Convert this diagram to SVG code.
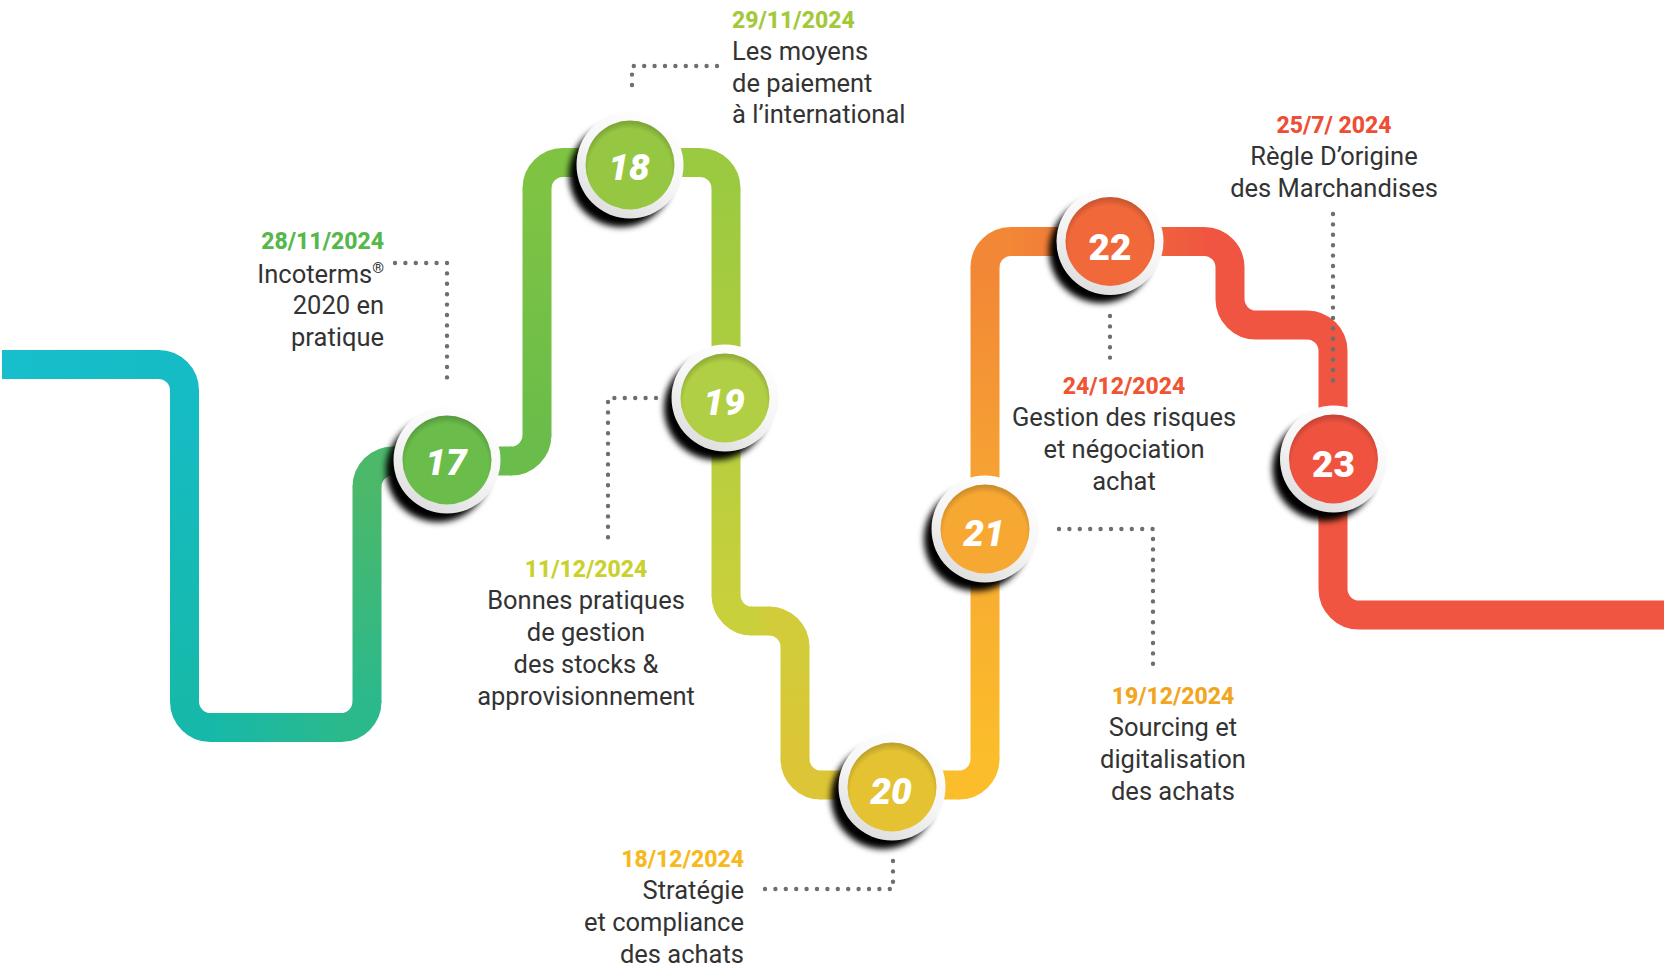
<svg xmlns="http://www.w3.org/2000/svg" width="1664" height="969" viewBox="0 0 1664 969">
<style>
.seg{fill:none;stroke-width:29;stroke-linecap:butt}
.lead{fill:none;stroke:#6d6e71;stroke-width:4.4;stroke-linecap:round;stroke-dasharray:0 10.4}
.num{font-family:Roboto,"Liberation Sans",sans-serif;font-weight:900;font-size:37px;fill:#fff;text-anchor:middle}
.it{font-style:italic}
.date{font-family:Roboto,"Liberation Sans",sans-serif;font-weight:800;font-size:23px}
.txt{font-family:Roboto,"Liberation Sans",sans-serif;font-weight:400;font-size:25.5px;fill:#333}
.ring{fill:url(#ringG)}
.shadow{fill:#000;filter:url(#blur)}
.bevel{fill:url(#bevelG)}
</style>
<defs>
<filter id="blur" x="-50%" y="-50%" width="200%" height="200%"><feGaussianBlur stdDeviation="3"/></filter>
<linearGradient id="ringG" x1="0.75" y1="0" x2="0.25" y2="1"><stop offset="0" stop-color="#ffffff"/><stop offset="0.5" stop-color="#f6f6f6"/><stop offset="1" stop-color="#dcdcdc"/></linearGradient>
<radialGradient id="bevelG" cx="0.5" cy="0.56" r="0.54"><stop offset="0.86" stop-color="#000" stop-opacity="0"/><stop offset="1" stop-color="#000" stop-opacity="0.16"/></radialGradient>
<linearGradient id="g0" gradientUnits="userSpaceOnUse" x1="2" y1="0" x2="159" y2="0"><stop offset="0" stop-color="#17bfcc"/><stop offset="1" stop-color="#15bcc5"/></linearGradient>
<linearGradient id="g1" gradientUnits="userSpaceOnUse" x1="0" y1="390" x2="0" y2="702"><stop offset="0" stop-color="#15bcc5"/><stop offset="1" stop-color="#16b9a9"/></linearGradient>
<linearGradient id="g2" gradientUnits="userSpaceOnUse" x1="210" y1="0" x2="341" y2="0"><stop offset="0" stop-color="#16b9a9"/><stop offset="1" stop-color="#2bb98c"/></linearGradient>
<linearGradient id="g3" gradientUnits="userSpaceOnUse" x1="0" y1="702" x2="0" y2="487"><stop offset="0" stop-color="#2bb98c"/><stop offset="1" stop-color="#4cb86a"/></linearGradient>
<linearGradient id="g4" gradientUnits="userSpaceOnUse" x1="393" y1="0" x2="511" y2="0"><stop offset="0" stop-color="#4cb86a"/><stop offset="1" stop-color="#6abd4a"/></linearGradient>
<linearGradient id="g5" gradientUnits="userSpaceOnUse" x1="0" y1="435" x2="0" y2="188"><stop offset="0" stop-color="#6abd4a"/><stop offset="1" stop-color="#7fc343"/></linearGradient>
<linearGradient id="g6" gradientUnits="userSpaceOnUse" x1="563" y1="0" x2="700" y2="0"><stop offset="0" stop-color="#7fc343"/><stop offset="1" stop-color="#9bca41"/></linearGradient>
<linearGradient id="g7" gradientUnits="userSpaceOnUse" x1="0" y1="188" x2="0" y2="595"><stop offset="0" stop-color="#9bca41"/><stop offset="1" stop-color="#c8d03c"/></linearGradient>
<linearGradient id="g8" gradientUnits="userSpaceOnUse" x1="752" y1="0" x2="769" y2="0"><stop offset="0" stop-color="#c8d03c"/><stop offset="1" stop-color="#d2cc3a"/></linearGradient>
<linearGradient id="g9" gradientUnits="userSpaceOnUse" x1="0" y1="647" x2="0" y2="759"><stop offset="0" stop-color="#d2cc3a"/><stop offset="1" stop-color="#dcc536"/></linearGradient>
<linearGradient id="g10" gradientUnits="userSpaceOnUse" x1="821" y1="0" x2="959" y2="0"><stop offset="0" stop-color="#dcc536"/><stop offset="1" stop-color="#fbbd2b"/></linearGradient>
<linearGradient id="g11" gradientUnits="userSpaceOnUse" x1="0" y1="759" x2="0" y2="267"><stop offset="0" stop-color="#fbbd2b"/><stop offset="0.5" stop-color="#f7a732"/><stop offset="1" stop-color="#f28736"/></linearGradient>
<linearGradient id="g12" gradientUnits="userSpaceOnUse" x1="1011" y1="0" x2="1204" y2="0"><stop offset="0" stop-color="#f28736"/><stop offset="1" stop-color="#ef573f"/></linearGradient>
</defs>
<rect width="1664" height="969" fill="#fff"/>
<g id="connectors">
<g id="track">
<path class="seg" stroke="url(#g0)" d="M2,364.5 H159.5"/>
<path class="seg" stroke="#15bcc5" d="M158.5,364.5 A26,26 0 0 1 184.5,390.5"/>
<path class="seg" stroke="url(#g1)" d="M184.5,389.5 V702.5"/>
<path class="seg" stroke="#16b9a9" d="M184.5,701.5 A26,26 0 0 0 210.5,727.5"/>
<path class="seg" stroke="url(#g2)" d="M209.5,727.5 H342"/>
<path class="seg" stroke="#2bb98c" d="M341,727.5 A26,26 0 0 0 367,701.5"/>
<path class="seg" stroke="url(#g3)" d="M367,702.5 V486"/>
<path class="seg" stroke="#4cb86a" d="M367,487 A26,26 0 0 1 393,461"/>
<path class="seg" stroke="url(#g4)" d="M392,461 H512"/>
<path class="seg" stroke="#6abd4a" d="M511,461 A26,26 0 0 0 537,435"/>
<path class="seg" stroke="url(#g5)" d="M537,436 V187.5"/>
<path class="seg" stroke="#7fc343" d="M537,188.5 A26,26 0 0 1 563,162.5"/>
<path class="seg" stroke="url(#g6)" d="M562,162.5 H701"/>
<path class="seg" stroke="#9bca41" d="M700,162.5 A26,26 0 0 1 726,188.5"/>
<path class="seg" stroke="url(#g7)" d="M726,187.5 V596"/>
<path class="seg" stroke="#c8d03c" d="M726,595 A26,26 0 0 0 752,621"/>
<path class="seg" stroke="url(#g8)" d="M751,621 H770"/>
<path class="seg" stroke="#d2cc3a" d="M769,621 A26,26 0 0 1 795,647"/>
<path class="seg" stroke="url(#g9)" d="M795,646 V760"/>
<path class="seg" stroke="#dcc536" d="M795,759 A26,26 0 0 0 821,785"/>
<path class="seg" stroke="url(#g10)" d="M820,785 H960"/>
<path class="seg" stroke="#fbbd2b" d="M959,785 A26,26 0 0 0 985,759"/>
<path class="seg" stroke="url(#g11)" d="M985,760 V266.5"/>
<path class="seg" stroke="#f28736" d="M985,267.5 A26,26 0 0 1 1011,241.5"/>
<path class="seg" stroke="url(#g12)" d="M1010,241.5 H1205"/>
<path class="seg" stroke="#ef5540" d="M1204,241.5 A26,26 0 0 1 1230,267.5 V299 A26,26 0 0 0 1256,325 H1307 A26,26 0 0 1 1333,351 V589 A26,26 0 0 0 1359,615 H1664"/>
</g>
<g id="leaders">
<path class="lead" d="M395,263 H447 V386"/>
<path class="lead" d="M717,66 H632 V89"/>
<path class="lead" d="M656,398 H608 V541"/>
<path class="lead" d="M893,861 V889 H762"/>
<path class="lead" d="M1059,529 H1153 V671"/>
<path class="lead" d="M1110,316 V361"/>
<path class="lead" d="M1333,214 V386"/>
</g>
</g>

<g id="node-17">
<circle class="shadow" cx="438" cy="470" r="52"/>
<circle class="ring" cx="447" cy="460" r="53.5"/>
<circle cx="447" cy="460" r="44.5" fill="#6bbd4b"/>
<circle class="bevel" cx="447" cy="460" r="44.5"/>
<text class="num it" x="446" y="475">17</text>
<text class="date" x="384" y="249" fill="#55b84a" text-anchor="end">28/11/2024</text>
<text class="txt" text-anchor="end"><tspan x="384" y="282.5">Incoterms<tspan font-size="15" dy="-10">®</tspan></tspan><tspan x="384" y="314">2020 en</tspan><tspan x="384" y="345.5">pratique</tspan></text>
</g>

<g id="node-18">
<circle class="shadow" cx="621" cy="175" r="52"/>
<circle class="ring" cx="630" cy="165" r="53.5"/>
<circle cx="630" cy="165" r="44.5" fill="#96c742"/>
<circle class="bevel" cx="630" cy="165" r="44.5"/>
<text class="num it" x="629" y="180">18</text>
<text class="date" x="732" y="27.5" fill="#a3c93a">29/11/2024</text>
<text class="txt"><tspan x="732" y="60">Les moyens</tspan><tspan x="732" y="91.5">de paiement</tspan><tspan x="732" y="123">à l’international</tspan></text>
</g>

<g id="node-19">
<circle class="shadow" cx="716" cy="408" r="52"/>
<circle class="ring" cx="725" cy="398" r="53.5"/>
<circle cx="725" cy="398" r="44.5" fill="#b0cf44"/>
<circle class="bevel" cx="725" cy="398" r="44.5"/>
<text class="num it" x="724" y="415">19</text>
<text class="date" x="586" y="577" fill="#c9d12d" text-anchor="middle">11/12/2024</text>
<text class="txt" text-anchor="middle"><tspan x="586" y="609">Bonnes pratiques</tspan><tspan x="586" y="641">de gestion</tspan><tspan x="586" y="673">des stocks &amp;</tspan><tspan x="586" y="705">approvisionnement</tspan></text>
</g>

<g id="node-20">
<circle class="shadow" cx="883" cy="797" r="52"/>
<circle class="ring" cx="892" cy="787" r="53.5"/>
<circle cx="892" cy="787" r="44.5" fill="#e5c232"/>
<circle class="bevel" cx="892" cy="787" r="44.5"/>
<text class="num it" x="891" y="804">20</text>
<text class="date" x="744" y="866.5" fill="#f8b820" text-anchor="end">18/12/2024</text>
<text class="txt" text-anchor="end"><tspan x="744" y="899">Stratégie</tspan><tspan x="744" y="931">et compliance</tspan><tspan x="744" y="963">des achats</tspan></text>
</g>

<g id="node-21">
<circle class="shadow" cx="976" cy="539" r="52"/>
<circle class="ring" cx="985" cy="529" r="53.5"/>
<circle cx="985" cy="529" r="44.5" fill="#f7a833"/>
<circle class="bevel" cx="985" cy="529" r="44.5"/>
<text class="num it" x="984" y="546">21</text>
<text class="date" x="1173" y="703.5" fill="#f2a51e" text-anchor="middle">19/12/2024</text>
<text class="txt" text-anchor="middle"><tspan x="1173" y="735.5">Sourcing et</tspan><tspan x="1173" y="767.5">digitalisation</tspan><tspan x="1173" y="799.5">des achats</tspan></text>
</g>

<g id="node-22">
<circle class="shadow" cx="1101" cy="251" r="52"/>
<circle class="ring" cx="1110" cy="241.5" r="53.5"/>
<circle cx="1110" cy="241.5" r="44.5" fill="#f1683a"/>
<circle class="bevel" cx="1110" cy="241.5" r="44.5"/>
<text class="num" x="1110" y="260">22</text>
<text class="date" x="1124" y="393.5" fill="#ef5534" text-anchor="middle">24/12/2024</text>
<text class="txt" text-anchor="middle"><tspan x="1124" y="425.5">Gestion des risques</tspan><tspan x="1124" y="457.5">et négociation</tspan><tspan x="1124" y="489.5">achat</tspan></text>
</g>

<g id="node-23">
<circle class="shadow" cx="1324.5" cy="469" r="52"/>
<circle class="ring" cx="1333.5" cy="459" r="53.5"/>
<circle cx="1333.5" cy="459" r="44.5" fill="#ef5340"/>
<circle class="bevel" cx="1333.5" cy="459" r="44.5"/>
<text class="num" x="1333.5" y="477">23</text>
<text class="date" x="1334" y="132.5" fill="#ee4d36" text-anchor="middle">25/7/ 2024</text>
<text class="txt" text-anchor="middle"><tspan x="1334" y="164.5">Règle D’origine</tspan><tspan x="1334" y="196.5">des Marchandises</tspan></text>
</g>
</svg>
